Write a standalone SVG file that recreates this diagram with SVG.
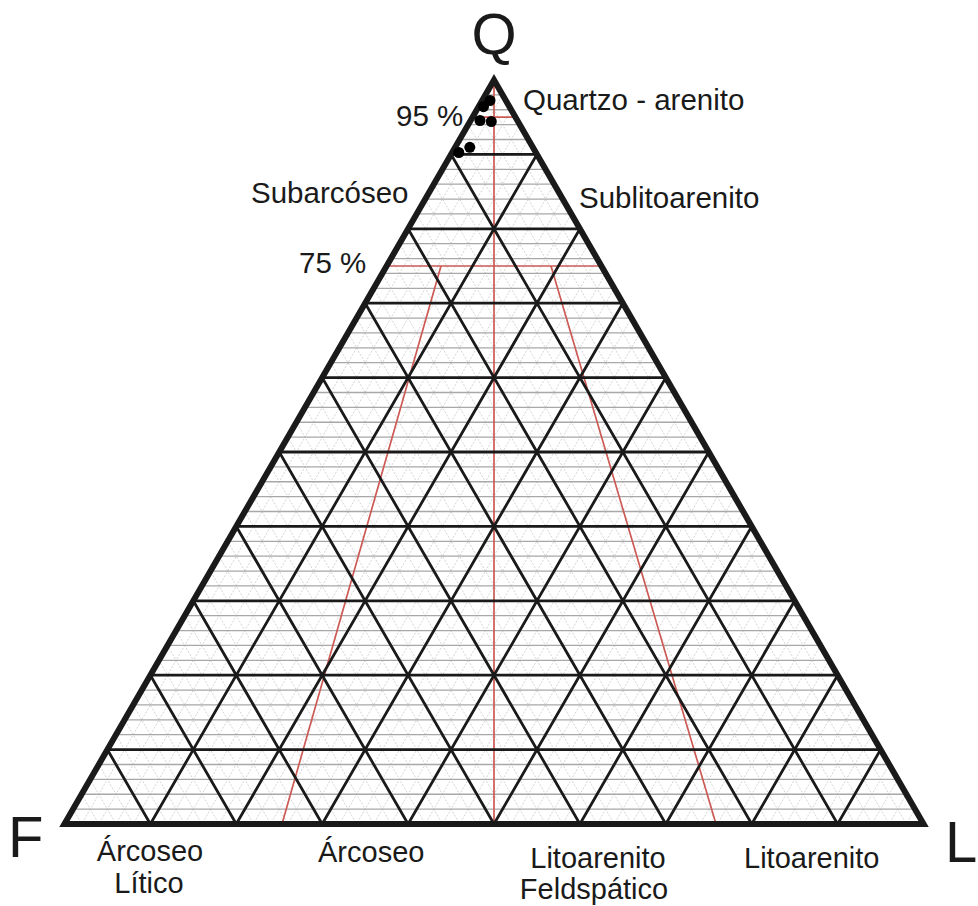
<svg xmlns="http://www.w3.org/2000/svg" xmlns:xlink="http://www.w3.org/1999/xlink" width="978" height="906" viewBox="0 0 978 906">
<style>
.lbl{font-family:"Liberation Sans",Arial,sans-serif;font-size:29.5px;fill:#1a1a1a}
.bl{font-family:"Liberation Sans",Arial,sans-serif;font-size:29px;fill:#1a1a1a}
.big{font-family:"Liberation Sans",Arial,sans-serif;font-size:58px;fill:#1a1a1a}
.mind{fill:none;stroke:#cfcfcf;stroke-width:0.9;stroke-dasharray:2 1.5}
.minh{fill:none;stroke:#a8a8a8;stroke-width:1.3}
.maj{fill:none;stroke:#1a1a1a;stroke-width:2.8}
.red{fill:none;stroke:#cc5a55;stroke-width:1.7}
</style>
<defs>
<clipPath id="tri"><polygon points="64.45,824 494,80 923.55,824"/></clipPath>
<path id="vminor" vector-effect="non-scaling-stroke" d="M81.63 60V830M98.81 60V830M115.99 60V830M133.18 60V830M167.54 60V830M184.72 60V830M201.9 60V830M219.09 60V830M253.45 60V830M270.63 60V830M287.82 60V830M305 60V830M339.36 60V830M356.54 60V830M373.73 60V830M390.91 60V830M425.27 60V830M442.45 60V830M459.64 60V830M476.82 60V830M511.18 60V830M528.36 60V830M545.55 60V830M562.73 60V830M597.09 60V830M614.27 60V830M631.46 60V830M648.64 60V830M683 60V830M700.18 60V830M717.37 60V830M734.55 60V830M768.91 60V830M786.09 60V830M803.28 60V830M820.46 60V830M854.82 60V830M872 60V830M889.19 60V830M906.37 60V830"/>
<path id="vmajor" vector-effect="non-scaling-stroke" d="M150.36 60V830M236.27 60V830M322.18 60V830M408.09 60V830M494 60V830M579.91 60V830M665.82 60V830M751.73 60V830M837.64 60V830"/>
</defs>
<rect width="978" height="906" fill="#ffffff"/>
<g id="grid-minor" clip-path="url(#tri)">
<use xlink:href="#vminor" class="mind" transform="translate(475.74,0) skewX(-30)"/>
<use xlink:href="#vminor" class="mind" transform="translate(-475.74,0) skewX(30)"/>
<path class="minh" d="M60 94.88H930M60 109.76H930M60 124.64H930M60 139.52H930M60 169.28H930M60 184.16H930M60 199.04H930M60 213.92H930M60 243.68H930M60 258.56H930M60 273.44H930M60 288.32H930M60 318.08H930M60 332.96H930M60 347.84H930M60 362.72H930M60 392.48H930M60 407.36H930M60 422.24H930M60 437.12H930M60 466.88H930M60 481.76H930M60 496.64H930M60 511.52H930M60 541.28H930M60 556.16H930M60 571.04H930M60 585.92H930M60 615.68H930M60 630.56H930M60 645.44H930M60 660.32H930M60 690.08H930M60 704.96H930M60 719.84H930M60 734.72H930M60 764.48H930M60 779.36H930M60 794.24H930M60 809.12H930"/>
</g>
<g id="red-lines" clip-path="url(#tri)">
<path class="red" d="M494 80V824M60 117.2H930M60 266H930M441 266L282 824M551 266L716 824"/>
</g>
<g id="grid-major" clip-path="url(#tri)">
<use xlink:href="#vmajor" class="maj" transform="translate(475.74,0) skewX(-30)"/>
<use xlink:href="#vmajor" class="maj" transform="translate(-475.74,0) skewX(30)"/>
<path class="maj" d="M60 154.4H930M60 228.8H930M60 303.2H930M60 377.6H930M60 452H930M60 526.4H930M60 600.8H930M60 675.2H930M60 749.6H930"/>
</g>
<g id="outline">
<polygon points="64.45,824 494,80 923.55,824" fill="none" stroke="#1a1a1a" stroke-width="6" stroke-linejoin="miter" stroke-miterlimit="10"/>
</g>
<g id="samples" fill="#000">
<circle cx="490" cy="100.5" r="5.5"/>
<circle cx="483.5" cy="106.7" r="5.5"/>
<circle cx="480" cy="120.5" r="5.5"/>
<circle cx="491.3" cy="121.5" r="5.5"/>
<circle cx="469.8" cy="147.3" r="5.5"/>
<circle cx="458.8" cy="152.5" r="5.5"/>
</g>
<g id="labels">
<text class="big" x="494" y="54" text-anchor="middle">Q</text>
<text class="big" x="8" y="857">F</text>
<text class="big" x="945" y="862">L</text>
<text class="lbl" x="523" y="110">Quartzo - arenito</text>
<text class="lbl" x="396" y="126">95 %</text>
<text class="lbl" x="251" y="203">Subarcóseo</text>
<text class="lbl" x="579" y="208">Sublitoarenito</text>
<text class="lbl" x="299" y="273">75 %</text>
<text class="bl" x="150" y="861" text-anchor="middle">Árcoseo</text>
<text class="bl" x="149" y="893" text-anchor="middle">Lítico</text>
<text class="bl" x="318" y="862">Árcoseo</text>
<text class="bl" x="598" y="868" text-anchor="middle">Litoarenito</text>
<text class="bl" x="594" y="899" text-anchor="middle">Feldspático</text>
<text class="bl" x="744" y="868">Litoarenito</text>
</g>
</svg>
